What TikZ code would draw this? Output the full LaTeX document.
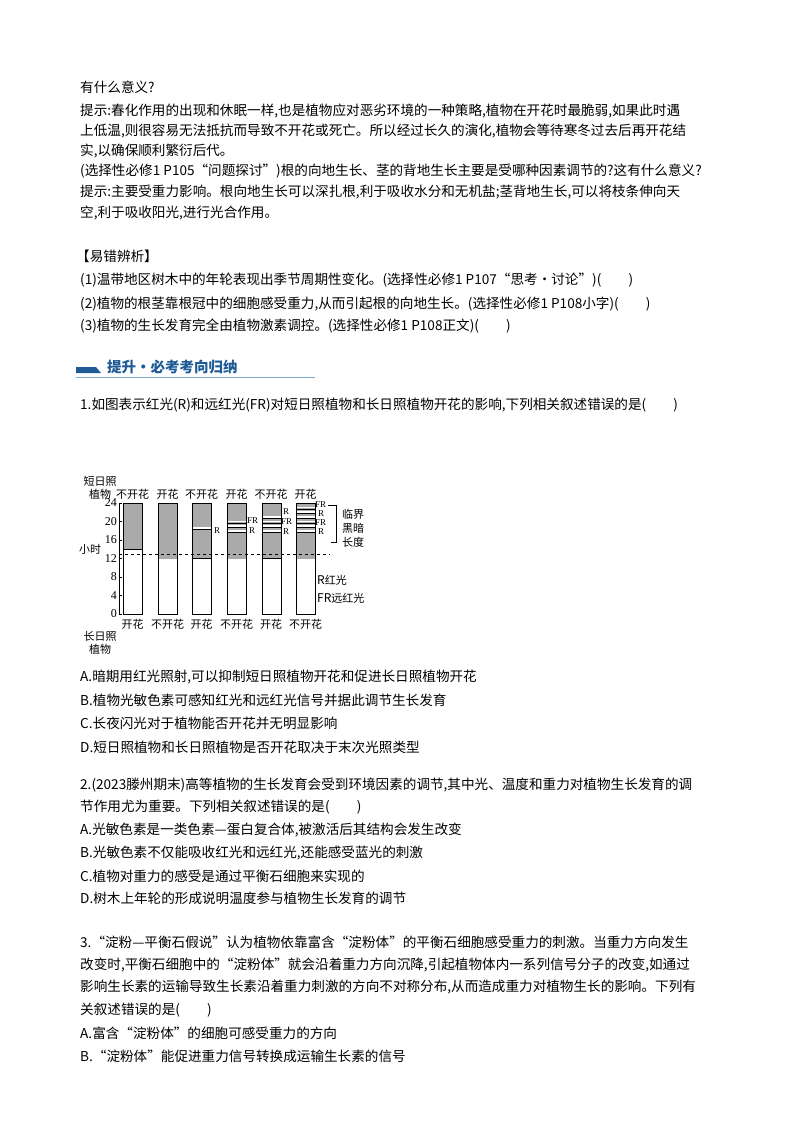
\documentclass[tikz,border=0pt]{standalone}
\usepackage{fontspec}
\setmainfont{Liberation Serif}
\newfontfamily\cjk{Noto Sans CJK SC}
\definecolor{hdblue}{RGB}{30,90,150}
\definecolor{hdline}{RGB}{120,170,210}
\definecolor{bargray}{RGB}{170,170,170}
\begin{document}
\begin{tikzpicture}[x=1pt,y=-1pt,
  ln/.style={anchor=west,inner sep=0pt,font=\cjk\fontsize{13.6}{15}\selectfont},
  sm/.style={inner sep=0pt,font=\cjk\fontsize{11}{12}\selectfont},
  lat/.style={inner sep=0pt,font=\fontsize{12}{13}\selectfont},
  rl/.style={inner sep=0pt,anchor=west,font=\fontsize{9}{9}\selectfont}]
\useasboundingbox (0,0) rectangle (800,1132);
\node[ln] (l1) at (80,87) {有什么意义?};
\node[ln] (l2) at (80,111) {提示:春化作用的出现和休眠一样,也是植物应对恶劣环境的一种策略,植物在开花时最脆弱,如果此时遇};
\node[ln] (l3) at (80,131) {上低温,则很容易无法抵抗而导致不开花或死亡。所以经过长久的演化,植物会等待寒冬过去后再开花结};
\node[ln] (l4) at (80,151) {实,以确保顺利繁衍后代。};
\node[ln] (l5) at (80,171) {(选择性必修1 P105“问题探讨”)根的向地生长、茎的背地生长主要是受哪种因素调节的?这有什么意义?};
\node[ln] (l6) at (80,192) {提示:主要受重力影响。根向地生长可以深扎根,利于吸收水分和无机盐;茎背地生长,可以将枝条伸向天};
\node[ln] (l7) at (80,213) {空,利于吸收阳光,进行光合作用。};
\node[ln] (l8) at (76,256) {【易错辨析】};
\node[ln] (l9) at (80,280) {(1)温带地区树木中的年轮表现出季节周期性变化。(选择性必修1 P107“思考·讨论”)(\quad\quad)};
\node[ln] (l10) at (80,304) {(2)植物的根茎靠根冠中的细胞感受重力,从而引起根的向地生长。(选择性必修1 P108小字)(\quad\quad)};
\node[ln] (l11) at (80,326) {(3)植物的生长发育完全由植物激素调控。(选择性必修1 P108正文)(\quad\quad)};
% header
\fill[hdblue] (76,373) -- (76,367) -- (96,367) -- (101,373) -- cycle;
\draw[hdline,line width=1pt] (76,377) -- (315,377);
\node[ln,text=hdblue,font=\cjk\bfseries\fontsize{14.5}{16}\selectfont] (hd) at (107,367) {提升·必考考向归纳};
\node[ln] (q1) at (80,405) {1.如图表示红光(R)和远红光(FR)对短日照植物和长日照植物开花的影响,下列相关叙述错误的是(\quad\quad)};
% chart
\def\yy#1{503+(24-#1)*4.625}
\foreach \x/\lo/\d in {123/14/1,158/12/0,192/12/1,227/12/0,262/12/1,296/12/0}{
  \fill[bargray] (\x,{\yy{\lo}}) rectangle (\x+19,503);
  \draw[line width=0.6pt] (\x,503) rectangle (\x+19,614);
  \ifnum\d=1 \draw[line width=1.2pt] (\x,{\yy{\lo}}) -- (\x+19,{\yy{\lo}});\fi
}
\foreach \x/\ys in {192/{18.6},227/{18,19,20},262/{18,19,20,21},296/{18,19,20,21,22,23}}{
  \foreach \s in \ys {\fill[white] (\x+0.5,{\yy{\s}-0.8}) rectangle (\x+18.5,{\yy{\s}+0.8});
    \draw[line width=0.4pt] (\x,{\yy{\s}+1.2}) -- (\x+19,{\yy{\s}+1.2});}
}
\draw[line width=0.6pt] (119,503) -- (119,614);
\foreach \v in {0,4,...,24}{\draw (119,{\yy{\v}}) -- (122,{\yy{\v}}); \node[lat,anchor=east] (t\v) at (117,{\yy{\v}}) {\v};}
\draw[dashed,line width=0.5pt] (119,{\yy{13}}) -- (330,{\yy{13}});
\node[sm] (hr) at (90,549) {小时};
\node[sm] (sd1) at (100,481) {短日照};
\node[sm] (sd2) at (100,494) {植物};
\foreach \x/\t [count=\i] in {132.5/不开花,167.5/开花,201.5/不开花,236.5/开花,271/不开花,305.5/开花}
  \node[sm] (top\i) at (\x,494) {\t};
\foreach \x/\t [count=\i] in {132.5/开花,167.5/不开花,201.5/开花,236.5/不开花,271/开花,305.5/不开花}
  \node[sm] (bot\i) at (\x,624) {\t};
\node[sm] (ld1) at (100,636) {长日照};
\node[sm] (ld2) at (100,649) {植物};
\node[rl] (r3) at (214,531) {R};
\node[rl] (fr4) at (247,521) {FR};
\node[rl] (r4) at (249,530.5) {R};
\node[rl] (r5a) at (283,512) {R};
\node[rl] (fr5) at (281,522) {FR};
\node[rl] (r5b) at (283,532) {R};
\node[rl] (fr6a) at (315,505) {FR};
\node[rl] (r6a) at (318,513.5) {R};
\node[rl] (fr6b) at (315,522.5) {FR};
\node[rl] (r6b) at (318,532) {R};
\draw[line width=0.5pt] (331,505) -- (336,505) -- (336,542) -- (331,542);
\draw[line width=1pt] (328,505) -- (336,505);
\node[sm,anchor=west] (k1) at (342,514) {临界};
\node[sm,anchor=west] (k2) at (342,528) {黑暗};
\node[sm,anchor=west] (k3) at (342,542) {长度};
\node[sm,anchor=west] (lg1) at (317,580) {\fontsize{12}{13}\selectfont R\cjk\fontsize{11}{12}\selectfont 红光};
\node[sm,anchor=west] (lg2) at (317,598) {\fontsize{12}{13}\selectfont FR\cjk\fontsize{11}{12}\selectfont 远红光};
% options
\node[ln] (a1) at (80,677) {A.暗期用红光照射,可以抑制短日照植物开花和促进长日照植物开花};
\node[ln] (b1) at (80,700) {B.植物光敏色素可感知红光和远红光信号并据此调节生长发育};
\node[ln] (c1) at (80,723) {C.长夜闪光对于植物能否开花并无明显影响};
\node[ln] (d1) at (80,747) {D.短日照植物和长日照植物是否开花取决于末次光照类型};
\node[ln] (q2) at (80,785) {2.(2023滕州期末)高等植物的生长发育会受到环境因素的调节,其中光、温度和重力对植物生长发育的调};
\node[ln] (q2b) at (80,807) {节作用尤为重要。下列相关叙述错误的是(\quad\quad)};
\node[ln] (a2) at (80,830) {A.光敏色素是一类色素—蛋白复合体,被激活后其结构会发生改变};
\node[ln] (b2) at (80,853) {B.光敏色素不仅能吸收红光和远红光,还能感受蓝光的刺激};
\node[ln] (c2) at (80,876) {C.植物对重力的感受是通过平衡石细胞来实现的};
\node[ln] (d2) at (80,898) {D.树木上年轮的形成说明温度参与植物生长发育的调节};
\node[ln] (q3) at (80,942) {3.“淀粉—平衡石假说”认为植物依靠富含“淀粉体”的平衡石细胞感受重力的刺激。当重力方向发生};
\node[ln] (q3b) at (80,965) {改变时,平衡石细胞中的“淀粉体”就会沿着重力方向沉降,引起植物体内一系列信号分子的改变,如通过};
\node[ln] (q3c) at (80,987) {影响生长素的运输导致生长素沿着重力刺激的方向不对称分布,从而造成重力对植物生长的影响。下列有};
\node[ln] (q3d) at (80,1010) {关叙述错误的是(\quad\quad)};
\node[ln] (a3) at (80,1033) {A.富含“淀粉体”的细胞可感受重力的方向};
\node[ln] (b3) at (80,1056) {B.“淀粉体”能促进重力信号转换成运输生长素的信号};
\end{tikzpicture}
\end{document}
